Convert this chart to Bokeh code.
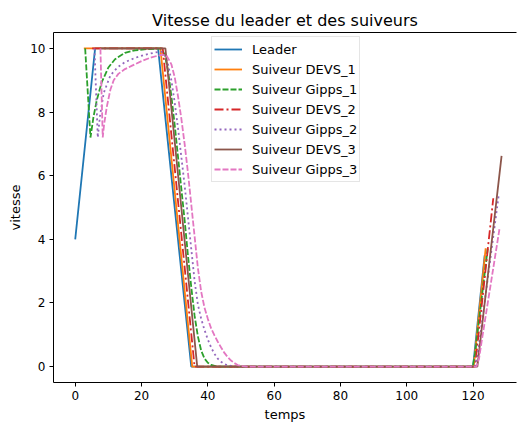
from bokeh.plotting import figure
from bokeh.models import Range1d, FixedTicker, LinearAxis, Legend, LegendItem
from bokeh.embed import file_html
from bokeh.resources import INLINE

title = "Vitesse du leader et des suiveurs"
x_label = "temps"
y_label = "vitesse"
x_ticks = [0, 20, 40, 60, 80, 100, 120]
y_ticks = [0, 2, 4, 6, 8, 10]

leader_t = [0, 6, 25, 35, 120, 123.5]
leader_v = [4, 10, 10, 0, 0, 3.5]

devs1_t = [2.6, 25.7, 35.3, 120.2, 123.8]
devs1_v = [10, 10, 0, 0, 3.72]

gipps1_t = [3.0, 4.6, 5.5, 6.5, 8, 10, 12, 15, 18, 22, 26, 27, 28, 29, 30, 31, 32, 33, 34, 35,
            36, 37, 38, 39, 40, 41, 43, 119.9, 120.6, 121.5, 124.4]
gipps1_v = [10, 7.2, 7.84, 8.37, 8.94, 9.40, 9.66, 9.86, 9.94, 9.98, 10, 9.8, 9.3, 8.5, 7.6, 6.6, 5.6,
            4.6, 3.5, 2.5, 1.6, 0.95, 0.5, 0.25, 0.12, 0.05, 0, 0, 0.4, 1.2, 3.7]

devs2_t = [5.1, 26.4, 36.0, 120.6, 126.1]
devs2_v = [10, 10, 0, 0, 5.29]

gipps2_t = [5.8, 6.8, 7.5, 8.6, 10.6, 12.7, 15, 18, 21, 24, 26, 27, 28, 29, 30, 31, 32, 33, 34, 35,
            36, 37, 38, 39, 40, 41, 42, 43, 44, 45, 46, 48, 120.5, 121.3, 122.2, 127.8]
gipps2_v = [10, 7.2, 7.9, 8.6, 9.15, 9.4, 9.57, 9.7, 9.8, 9.87, 9.9, 9.8, 9.5, 9.0, 8.3, 7.5, 6.6,
            5.7, 4.7, 3.7, 2.7, 1.95, 1.5, 1.15, 0.85, 0.6, 0.4, 0.25, 0.15, 0.08, 0.04, 0, 0, 0.3, 1.0, 5.44]

devs3_t = [7.6, 27.2, 36.8, 121.3, 128.6]
devs3_v = [10, 10, 0, 0, 6.62]

gipps3_t = [7.6, 8.3, 8.7, 9.5, 10.6, 11.6, 13, 15, 17, 20, 23, 26, 27.5, 28.5, 29, 30, 31, 32, 33,
            34, 35, 36, 37, 38, 39, 40, 41, 42, 43, 44, 45, 46, 47, 48, 49, 50, 52,
            121.0, 121.8, 122.6, 128.0]
gipps3_v = [10, 7.2, 7.6, 8.15, 8.7, 9.0, 9.2, 9.35, 9.45, 9.6, 9.72, 9.8, 9.78, 9.6, 9.5, 9.1, 8.5,
            7.8, 7.0, 6.1, 5.1, 4.1, 3.1, 2.35, 1.85, 1.5, 1.2, 0.98, 0.78, 0.6, 0.43, 0.3, 0.19, 0.11,
            0.05, 0.02, 0, 0, 0.25, 0.8, 4.35]

series_names = ["Leader", "Suiveur DEVS_1", "Suiveur Gipps_1", "Suiveur DEVS_2",
                "Suiveur Gipps_2", "Suiveur DEVS_3", "Suiveur Gipps_3"]
series_t = [leader_t, devs1_t, gipps1_t, devs2_t, gipps2_t, devs3_t, gipps3_t]
series_v = [leader_v, devs1_v, gipps1_v, devs2_v, gipps2_v, devs3_v, gipps3_v]
colors = ["#1f77b4", "#ff7f0e", "#2ca02c", "#d62728", "#9467bd", "#8c564b", "#e377c2"]
dashes = ["solid", "solid", "6 2", "9 3 2 3", "2 3", "solid", "6 2"]

FONT = "DejaVu Sans"

p = figure(width=518, height=424, x_range=Range1d(-6.55, 133.1), y_range=Range1d(-0.5, 10.5),
           output_backend="svg", toolbar_location=None,
           min_border_left=53, min_border_right=2, min_border_top=32, min_border_bottom=41)
p.title.text = title
p.title.align = "center"
p.title.text_font = FONT
p.title.text_font_size = "16px"
p.title.text_font_style = "normal"
p.title.text_color = "black"
p.title.standoff = 6
p.outline_line_color = None
p.xgrid.visible = False
p.ygrid.visible = False
p.background_fill_color = "white"
p.border_fill_color = "white"

p.xaxis.ticker = FixedTicker(ticks=x_ticks)
p.yaxis.ticker = FixedTicker(ticks=y_ticks)
p.xaxis.axis_label = x_label
p.yaxis.axis_label = y_label
for ax in [p.xaxis[0], p.yaxis[0]]:
    ax.axis_line_color = "black"
    ax.axis_line_width = 1
    ax.major_tick_line_color = "black"
    ax.major_tick_out = 4
    ax.major_tick_in = 0
    ax.minor_tick_line_color = None
    ax.major_label_text_font = FONT
    ax.major_label_text_font_size = "12px"
    ax.major_label_text_color = "black"
    ax.major_label_standoff = 4
    ax.axis_label_text_font = FONT
    ax.axis_label_text_font_size = "13px"
    ax.axis_label_text_font_style = "normal"
    ax.axis_label_text_color = "black"
    ax.axis_label_standoff = 4

top_axis = LinearAxis(ticker=FixedTicker(ticks=[]), axis_line_color="black",
                      major_tick_line_color=None, minor_tick_line_color=None,
                      major_label_standoff=0, major_tick_out=0, major_tick_in=0)
p.add_layout(top_axis, "above")

items = []
for name, t, v, c, d in zip(series_names, series_t, series_v, colors, dashes):
    r = p.line(t, v, line_color=c, line_width=1.8, line_dash=d)
    items.append(LegendItem(label=name, renderers=[r]))

legend = Legend(items=items, location=(158, 200), padding=2, spacing=0,
                label_height=20, glyph_height=20, glyph_width=28, label_standoff=10,
                label_text_font=FONT, label_text_font_size="13px", label_text_color="black",
                border_line_color="#cccccc", border_line_width=1,
                background_fill_color="white", background_fill_alpha=0.8, margin=0)
p.add_layout(legend, "center")

open("out.html", "w").write(file_html(p, INLINE))
